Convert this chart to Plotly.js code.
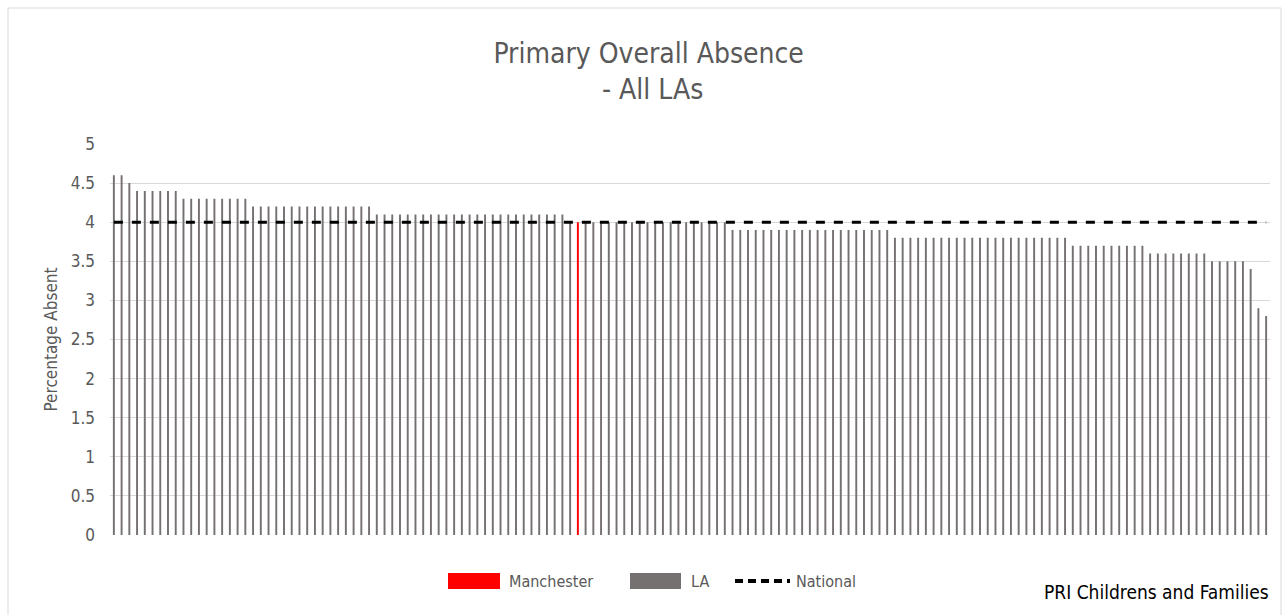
<!DOCTYPE html>
<html>
<head>
<meta charset="utf-8">
<script src="https://cdn.plot.ly/plotly-3.0.1.min.js"></script>
<style>
  html, body { margin: 0; padding: 0; background: #fff; }
  #chart { width: 1287px; height: 615px; }
</style>
</head>
<body>
<div id="chart"></div>
<script>
// ---- Data ----
// Primary overall absence (%) for each local authority, sorted descending.
var absenceValues = [
  4.6, 4.6, 4.5,
  4.4, 4.4, 4.4, 4.4, 4.4, 4.4,
  4.3, 4.3, 4.3, 4.3, 4.3, 4.3, 4.3, 4.3, 4.3,
  4.2, 4.2, 4.2, 4.2, 4.2, 4.2, 4.2, 4.2, 4.2, 4.2, 4.2, 4.2, 4.2, 4.2, 4.2, 4.2,
  4.1, 4.1, 4.1, 4.1, 4.1, 4.1, 4.1, 4.1, 4.1, 4.1, 4.1, 4.1, 4.1, 4.1, 4.1, 4.1, 4.1, 4.1, 4.1, 4.1, 4.1, 4.1, 4.1, 4.1, 4.1,
  4.0, 4.0,
  4.0, 4.0, 4.0, 4.0, 4.0, 4.0, 4.0, 4.0, 4.0, 4.0, 4.0, 4.0, 4.0, 4.0, 4.0, 4.0, 4.0, 4.0, 4.0,
  3.9, 3.9, 3.9, 3.9, 3.9, 3.9, 3.9, 3.9, 3.9, 3.9, 3.9, 3.9, 3.9, 3.9, 3.9, 3.9, 3.9, 3.9, 3.9, 3.9, 3.9,
  3.8, 3.8, 3.8, 3.8, 3.8, 3.8, 3.8, 3.8, 3.8, 3.8, 3.8, 3.8, 3.8, 3.8, 3.8, 3.8, 3.8, 3.8, 3.8, 3.8, 3.8, 3.8, 3.8,
  3.7, 3.7, 3.7, 3.7, 3.7, 3.7, 3.7, 3.7, 3.7, 3.7,
  3.6, 3.6, 3.6, 3.6, 3.6, 3.6, 3.6, 3.6,
  3.5, 3.5, 3.5, 3.5, 3.5,
  3.4, 2.9, 2.8
];
var manchesterPosition = 60;          // index of Manchester in the sorted list
var highlightName = "Manchester";
var nationalAverage = 4.0;            // National primary overall absence (%)
var yTickValues = [0, 0.5, 1, 1.5, 2, 2.5, 3, 3.5, 4, 4.5, 5];
var yTickLabels = ["0", "0.5", "1", "1.5", "2", "2.5", "3", "3.5", "4", "4.5", "5"];
var legendLabels = ["Manchester", "LA", "National"];

// Category labels (LA names are not shown on the chart)
var laNames = absenceValues.map(function (v, i) {
  return i === manchesterPosition ? highlightName : "LA " + (i + 1);
});

var laY = absenceValues.map(function (v, i) { return i === manchesterPosition ? null : v; });
var manY = absenceValues.map(function (v, i) { return i === manchesterPosition ? v : null; });
var natY = absenceValues.map(function () { return nationalAverage; });

var FONT = "'Liberation Sans Narrow', 'DejaVu Sans Condensed', 'Arial Narrow', sans-serif";
var TXT = "#595959";
var RED = "#ff0000", GREY = "#767171";

var traces = [
  {
    type: "bar", name: "Manchester", x: laNames, y: manY,
    marker: { color: RED, line: { width: 0 } }, hoverinfo: "x+y"
  },
  {
    type: "bar", name: "LA", x: laNames, y: laY,
    marker: { color: GREY, line: { width: 0 } }, hoverinfo: "x+y"
  },
  {
    type: "scatter", mode: "lines", name: "National", x: laNames, y: natY,
    line: { color: "#000000", width: 3, dash: "dash" }, hoverinfo: "y"
  }
];

// pixel -> paper helpers for the custom legend / frame (plot area 110..1270 x 144..535)
function px(p) { return (p - 110) / 1160; }
function py(p) { return (535 - p) / 391; }

var legY = 581;
var layout = {
  width: 1287, height: 615,
  paper_bgcolor: "#ffffff", plot_bgcolor: "#ffffff",
  margin: { l: 110, r: 17, t: 144, b: 80, pad: 0 },
  font: { family: FONT, color: TXT, size: 16 },
  title: {
    text: "Primary Overall Absence<br> - All LAs",
    font: { family: FONT, size: 28, color: TXT },
    x: 0.504, xref: "container", xanchor: "center",
    y: 1 - 63 / 615, yref: "container", yanchor: "middle"
  },
  barmode: "overlay",
  bargap: 0.75,
  xaxis: {
    type: "category", showticklabels: false, ticks: "",
    showgrid: false, zeroline: false, showline: false,
    range: [-0.5, absenceValues.length - 0.5], fixedrange: true
  },
  yaxis: {
    range: [0, 5], tickvals: yTickValues, ticktext: yTickLabels,
    showgrid: true, gridcolor: "#d9d9d9", gridwidth: 1,
    zeroline: false, showline: false, ticks: "",
    ticklabelstandoff: 14,
    tickfont: { family: FONT, size: 17, color: TXT },
    title: { text: "Percentage Absent", font: { family: FONT, size: 17, color: TXT }, standoff: 8 },
    fixedrange: true
  },
  showlegend: false,
  annotations: [
    {
      text: "PRI Childrens and Families", xref: "paper", yref: "paper",
      x: px(1271), xanchor: "right", y: py(592), yanchor: "middle",
      showarrow: false, font: { family: FONT, size: 19, color: "#000000" }
    },
    {
      text: legendLabels[0], xref: "paper", yref: "paper", x: px(507), xanchor: "left",
      y: py(legY), yanchor: "middle", showarrow: false, font: { family: FONT, size: 16, color: TXT }
    },
    {
      text: legendLabels[1], xref: "paper", yref: "paper", x: px(689), xanchor: "left",
      y: py(legY), yanchor: "middle", showarrow: false, font: { family: FONT, size: 16, color: TXT }
    },
    {
      text: legendLabels[2], xref: "paper", yref: "paper", x: px(794), xanchor: "left",
      y: py(legY), yanchor: "middle", showarrow: false, font: { family: FONT, size: 16, color: TXT }
    }
  ],
  shapes: [
    {
      type: "rect", xref: "paper", yref: "paper",
      x0: px(8), x1: px(1281), y0: py(640), y1: py(8),
      line: { color: "#d9d9d9", width: 1 }, fillcolor: "rgba(0,0,0,0)", layer: "below"
    },
    {
      type: "rect", xref: "paper", yref: "paper",
      x0: px(448), x1: px(500), y0: py(589), y1: py(573),
      line: { width: 0 }, fillcolor: RED
    },
    {
      type: "rect", xref: "paper", yref: "paper",
      x0: px(630), x1: px(681), y0: py(589), y1: py(573),
      line: { width: 0 }, fillcolor: GREY
    },
    {
      type: "line", xref: "paper", yref: "paper",
      x0: px(735), x1: px(790), y0: py(legY), y1: py(legY),
      line: { color: "#000000", width: 4, dash: "8px,5px" }
    }
  ]
};

Plotly.newPlot("chart", traces, layout, { displayModeBar: false, staticPlot: true });
</script>
</body>
</html>
